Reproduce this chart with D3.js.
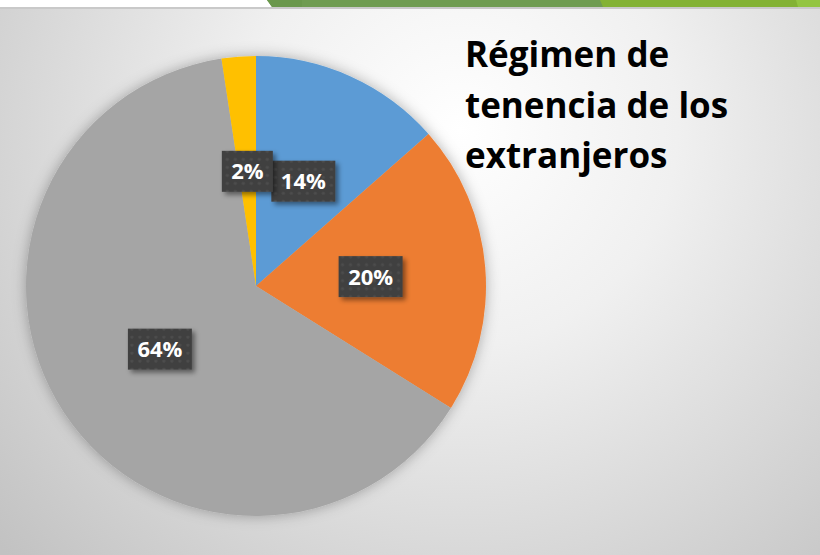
<!DOCTYPE html>
<html>
<head>
<meta charset="utf-8">
<script src="https://cdn.jsdelivr.net/npm/d3@7"></script>
<style>
    body { margin: 0; padding: 0; overflow: hidden; }
    svg { display: block; }
</style>
</head>
<body>
<script>
    // Data (shares of a whole, clockwise from 12 o'clock).
    const categories = ["Propiedad", "Alquiler", "Cesión", "Otros"];
    const values = [13.5, 20.4, 63.7, 2.4];
    const sliceColors = ["#5b9bd5", "#ed7d31", "#a5a5a5", "#ffc000"];
    const titleLines = ["Régimen de", "tenencia de los", "extranjeros"];

    const width = 820;
    const height = 555;
    const center = {x: 256, y: 286};
    const radius = 230;
    const font = "'Open Sans', 'Noto Sans', sans-serif";

    const svg = d3.select("body").append("svg").attr("width", width).attr("height", height);
    const defs = svg.append("defs");

    // Background gradient.
    const bg = defs.append("radialGradient").attr("id", "bg")
        .attr("gradientUnits", "userSpaceOnUse")
        .attr("cx", 460).attr("cy", 130).attr("r", 620);
    bg.append("stop").attr("offset", "0").attr("stop-color", "#ffffff");
    bg.append("stop").attr("offset", "0.35").attr("stop-color", "#f0f0f0");
    bg.append("stop").attr("offset", "1").attr("stop-color", "#c2c2c2");

    // Soft shadow round the pie, drop shadow for labels.
    const pieShadow = defs.append("filter").attr("id", "pieShadow")
        .attr("x", "-20%").attr("y", "-20%").attr("width", "140%").attr("height", "140%");
    pieShadow.append("feDropShadow").attr("dx", 0).attr("dy", 0)
        .attr("stdDeviation", 7).attr("flood-color", "#000").attr("flood-opacity", 0.3);

    const labelShadow = defs.append("filter").attr("id", "labelShadow")
        .attr("x", "-30%").attr("y", "-30%").attr("width", "160%").attr("height", "160%");
    labelShadow.append("feDropShadow").attr("dx", 3).attr("dy", 3)
        .attr("stdDeviation", 2.5).attr("flood-color", "#000").attr("flood-opacity", 0.45);

    // Dotted texture of the label boxes.
    const dots = defs.append("pattern").attr("id", "dots")
        .attr("patternUnits", "userSpaceOnUse").attr("width", 8).attr("height", 8);
    dots.append("rect").attr("width", 8).attr("height", 8).attr("fill", "#404040");
    dots.append("circle").attr("cx", 4).attr("cy", 4).attr("r", 1.6).attr("fill", "#4d4d4d");

    svg.append("rect").attr("width", width).attr("height", height).attr("fill", "url(#bg)");

    // Top strip of the slide.
    svg.append("rect").attr("x", 0).attr("y", 0).attr("width", width).attr("height", 7).attr("fill", "#ffffff");
    svg.append("rect").attr("x", 0).attr("y", 7).attr("width", width).attr("height", 2).attr("fill", "#c9c9c9");
    svg.append("path").attr("d", "M267,0 L820,0 L820,7 L272,7 Z").attr("fill", "#6f9c51");
    svg.append("path").attr("d", "M267,0 L302,0 L302,7 L272,7 Z").attr("fill", "#6a984c");
    svg.append("path").attr("d", "M600,0 L820,0 L820,7 L603,7 Z").attr("fill", "#83b234");
    svg.append("path").attr("d", "M796,0 L820,0 L820,7 L798,7 Z").attr("fill", "#93c541");

    // Pie.
    const data = categories.map((c, i) => ({name: c, value: values[i], color: sliceColors[i]}));
    const pie = d3.pie().value(d => d.value).sort(null);
    const arc = d3.arc().innerRadius(0).outerRadius(radius);
    const labelArc = d3.arc().innerRadius(radius * 0.5).outerRadius(radius * 0.5);
    const total = d3.sum(values);

    const g = svg.append("g").attr("transform", "translate(" + center.x + "," + center.y + ")");

    g.append("g").attr("filter", "url(#pieShadow)")
        .selectAll("path")
        .data(pie(data))
        .enter()
        .append("path")
        .attr("d", arc)
        .attr("fill", d => d.data.color);

    // Data labels.
    const labels = g.selectAll("g.label")
        .data(pie(data))
        .enter()
        .append("g")
        .attr("class", "label")
        .attr("transform", d => "translate(" + labelArc.centroid(d) + ")");

    labels.append("rect")
        .attr("fill", "url(#dots)")
        .attr("filter", "url(#labelShadow)");

    labels.append("text")
        .attr("text-anchor", "middle")
        .attr("dy", "0.36em")
        .style("font-family", font)
        .style("font-weight", "bold")
        .style("font-size", "22px")
        .attr("fill", "#ffffff")
        .text(d => Math.round(d.data.value / total * 100) + "%");

    labels.each(function() {
        const t = d3.select(this).select("text").node().getComputedTextLength();
        const w = Math.round(t + 19);
        d3.select(this).select("rect")
            .attr("x", -w / 2).attr("y", -20.5)
            .attr("width", w).attr("height", 41);
    });

    // Title.
    const title = svg.append("text")
        .attr("x", 465)
        .attr("y", 67)
        .style("font-family", font)
        .style("font-weight", "bold")
        .style("font-size", "33px")
        .attr("fill", "#000000");

    title.selectAll("tspan")
        .data(titleLines)
        .enter()
        .append("tspan")
        .attr("x", 465)
        .attr("dy", (d, i) => i === 0 ? 0 : 50.5)
        .text(d => d);

    // Fit the widest line to the width it has in the picture.
    const widest = d3.max(title.selectAll("tspan").nodes(), n => n.getComputedTextLength());
    title.style("font-size", (33 * 263 / widest).toFixed(1) + "px");
</script>
</body>
</html>
